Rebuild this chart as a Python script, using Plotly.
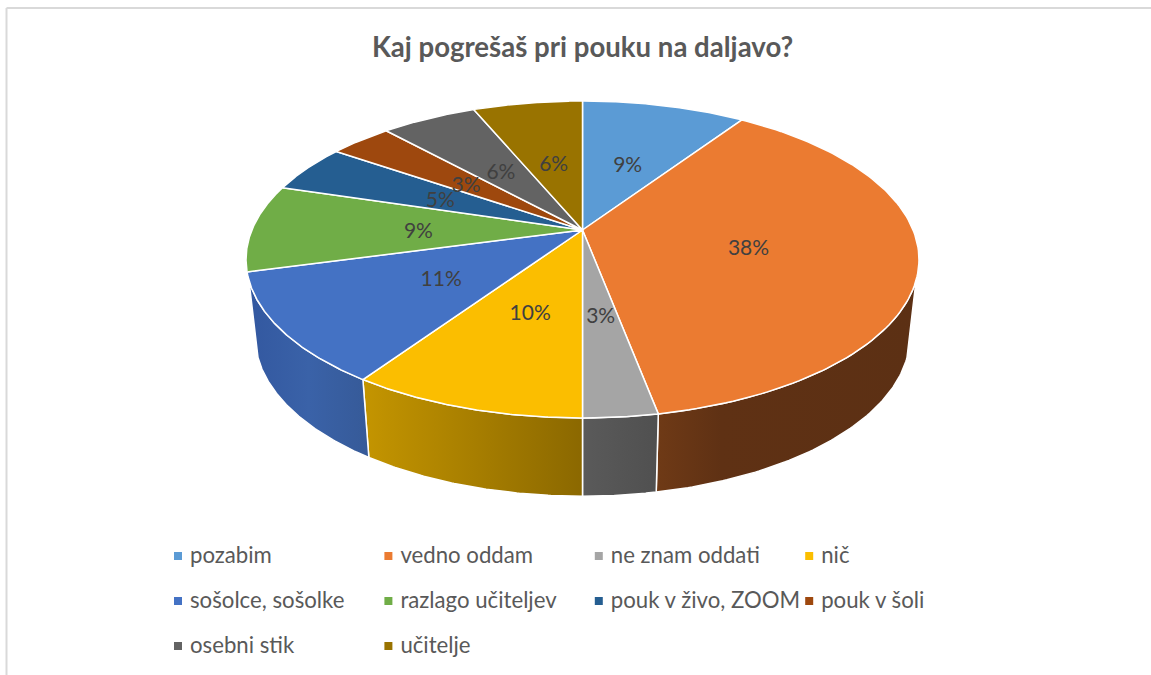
import numpy as np
import plotly.graph_objects as go

categories = ["pozabim", "vedno oddam", "ne znam oddati", "nič", "sošolce, sošolke",
              "razlago učiteljev", "pouk v živo, ZOOM", "pouk v šoli", "osebni stik", "učitelje"]
values = [9.4, 37.6, 3.0, 9.5, 11.3, 8.9, 4.9, 3.6, 5.5, 6.3]
percent_labels = ["9%", "38%", "3%", "10%", "11%", "9%", "5%", "3%", "6%", "6%"]
colors = ["#5B9BD5", "#EB7B31", "#A5A5A5", "#FBBE00", "#4472C4",
          "#70AD47", "#255E91", "#9E480E", "#636363", "#997300"]
wall_shades = {
    1: [[0, "#6F3A16"], [0.25, "#5F3114"], [1, "#5C3014"]],
    2: [[0, "#5A5A5A"], [1, "#505050"]],
    3: [[0, "#C49500"], [1, "#8B6800"]],
    4: [[0, "#3358A0"], [0.5, "#3A62A8"], [1, "#365A98"]],
}

# Camera model of the tilted disc, in page pixels
CX, TOP_Y, TOP_A, TOP_B = 582.5, 230.0, 330.6, 153.0
BOT_Y, BOT_A, BOT_B = 307.0, 321.6, 154.0
K = 0.186
WALL_FROM, WALL_TO = 108.0, 252.0
LABEL_DX, LABEL_DY = 1.0, 4.0


def project(theta_deg, r=1.0, y0=TOP_Y, a=TOP_A, b=TOP_B):
    t = np.radians(theta_deg)
    u, v = r * np.sin(t), r * np.cos(t)
    d = 1 + K * v
    return CX + a * u / d, y0 - b * v / d


edges = np.concatenate([[0], np.cumsum(values)]) * 3.6
fig = go.Figure()

# side walls
for i in range(len(values)):
    a0, a1 = max(edges[i], WALL_FROM), min(edges[i + 1], WALL_TO)
    if a1 <= a0:
        continue
    th = np.linspace(a0, a1, 90)
    xt, yt = project(th)
    xb, yb = project(th[::-1], 1.0, BOT_Y, BOT_A, BOT_B)
    fig.add_trace(go.Scatter(
        x=np.r_[xt, xb, xt[0]], y=np.r_[yt, yb, yt[0]], mode="lines", fill="toself",
        fillgradient=dict(type="horizontal", colorscale=wall_shades[i]),
        line=dict(color="white", width=1.5), name=categories[i], showlegend=False,
        hoverinfo="skip"))

# top face
for i in range(len(values)):
    th = np.linspace(edges[i], edges[i + 1], 120)
    xt, yt = project(th)
    fig.add_trace(go.Scatter(
        x=np.r_[CX, xt, CX], y=np.r_[TOP_Y, yt, TOP_Y], mode="lines", fill="toself",
        fillcolor=colors[i], line=dict(color="white", width=1.5), name=categories[i],
        showlegend=False, hoverinfo="name"))

# percentage labels
mid = (edges[:-1] + edges[1:]) / 2
lx, ly = project(mid, 0.5)
fig.add_trace(go.Scatter(x=lx + LABEL_DX, y=ly + LABEL_DY, mode="text", text=percent_labels,
                         textfont=dict(family="Lato", size=21, color="#404040"),
                         showlegend=False, hoverinfo="skip"))

# legend grid
LEG_X0, LEG_DX, LEG_Y0, LEG_DY, LEG_GAP, LEG_TEXT_DY = 178.0, 210.4, 556.0, 45.0, 12.0, 1.5
for i, name in enumerate(categories):
    mx, my = LEG_X0 + LEG_DX * (i % 4), LEG_Y0 + LEG_DY * (i // 4)
    fig.add_trace(go.Scatter(
        x=[mx], y=[my], mode="markers",
        marker=dict(symbol="square", size=8, color=colors[i], line=dict(width=0)),
        showlegend=False, hoverinfo="skip", cliponaxis=False))
    fig.add_trace(go.Scatter(
        x=[mx + LEG_GAP], y=[my + LEG_TEXT_DY], mode="text", text=[name], textposition="middle right",
        textfont=dict(family="Lato", size=22.2, color="#595959"),
        showlegend=False, hoverinfo="skip", cliponaxis=False))

fig.update_layout(
    width=1151, height=675, margin=dict(l=0, r=0, t=0, b=0),
    paper_bgcolor="white", plot_bgcolor="white",
    title=dict(text="<b>Kaj pogrešaš pri pouku na daljavo?</b>", x=582.5 / 1151, xanchor="center",
               y=1 - 47.5 / 675, yanchor="middle",
               font=dict(family="Lato", size=27.6, color="#595959")),
    xaxis=dict(range=[0, 1151], visible=False, fixedrange=True),
    yaxis=dict(range=[675, 0], visible=False, fixedrange=True),
    shapes=[
        dict(type="line", xref="paper", yref="paper", x0=6.5 / 1151, x1=1, y0=1 - 8 / 675, y1=1 - 8 / 675,
             line=dict(color="#D9D9D9", width=2)),
        dict(type="line", xref="paper", yref="paper", x0=6.5 / 1151, x1=6.5 / 1151, y0=0, y1=1 - 8 / 675,
             line=dict(color="#D9D9D9", width=2)),
    ],
)

fig.write_html("out.html", config=dict(displayModeBar=False),
               post_script="document.body.style.margin='0';document.body.style.overflow='hidden';")
